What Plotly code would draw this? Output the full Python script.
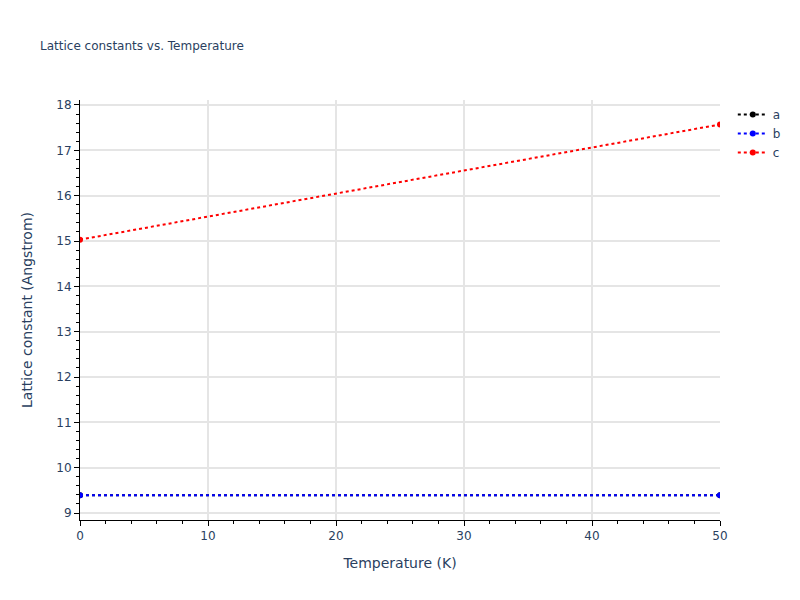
import plotly.graph_objects as go

temperature = [0, 50]
a_vals = [9.39, 9.39]
b_vals = [9.39, 9.39]
c_vals = [15.03, 17.57]

series = [("a", a_vals, "black"), ("b", b_vals, "blue"), ("c", c_vals, "red")]

fig = go.Figure()
for name, vals, color in series:
    fig.add_trace(go.Scatter(
        x=temperature, y=vals, name=name, mode="lines+markers",
        line=dict(color=color, dash="dot", width=2),
        marker=dict(color=color, size=6),
    ))

axis_common = dict(
    showline=True, linecolor="black", linewidth=1,
    ticks="outside", tickcolor="black", ticklen=5,
    showgrid=True, gridcolor="#e5e5e5", gridwidth=1.5,
    zeroline=False,
)

fig.update_layout(
    width=792, height=592,
    margin=dict(l=72, r=80, t=92, b=80),
    template="plotly_white",
    font=dict(family="DejaVu Sans", size=12, color="#2a3f5f"),
    title=dict(text="Lattice constants vs. Temperature", font=dict(size=12),
               x=32 / 792, xanchor="left", yref="container", y=1 - 38 / 592, yanchor="middle"),
    xaxis=dict(title=dict(text="Temperature (K)", font=dict(size=14)), range=[0, 50], dtick=10,
               minor=dict(ticks="outside", dtick=2, ticklen=3, tickcolor="black", showgrid=False),
               **axis_common),
    yaxis=dict(title=dict(text="Lattice constant (Angstrom)", font=dict(size=14), standoff=20),
               range=[8.846, 18.11], dtick=1,
               minor=dict(ticks="outside", dtick=0.2, ticklen=3, tickcolor="black", showgrid=False),
               **axis_common),
    plot_bgcolor="white",
    paper_bgcolor="white",
)

fig.write_html("out.html")
